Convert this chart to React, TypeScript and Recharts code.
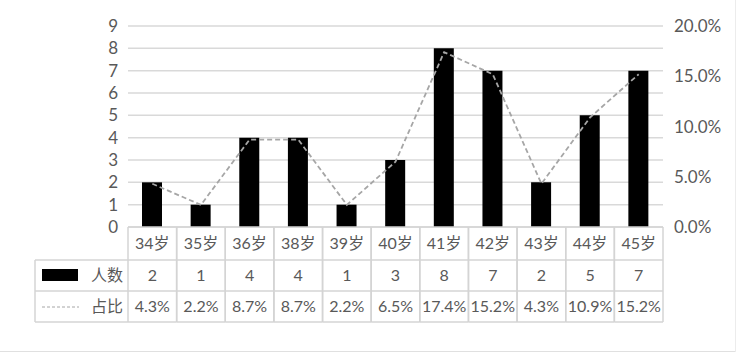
import React from 'react';
import { ComposedChart, Bar, Line, XAxis, YAxis, CartesianGrid } from 'recharts';

const AGES = ['34岁', '35岁', '36岁', '38岁', '39岁', '40岁', '41岁', '42岁', '43岁', '44岁', '45岁'];
const COUNTS = [2, 1, 4, 4, 1, 3, 8, 7, 2, 5, 7];
const SHARES = [4.3, 2.2, 8.7, 8.7, 2.2, 6.5, 17.4, 15.2, 4.3, 10.9, 15.2];
const LEFT_TICKS = [0, 1, 2, 3, 4, 5, 6, 7, 8, 9];
const RIGHT_TICKS = [0, 5, 10, 15, 20];

const W = 738;
const H = 358;
const PLOT_LEFT = 128;
const PLOT_RIGHT = 663;
const COL_W = (PLOT_RIGHT - PLOT_LEFT) / AGES.length;
const ROW_H = [33, 31, 31];
const LEGEND_W = 93;

const FONT = "Lato, 'Noto Sans CJK SC', sans-serif";
const TEXT = '#595959';
const BORDER = '#d4d4d4';
const GRID = '#d9d9d9';
const LINE_COLOR = '#a6a6a6';

const data = AGES.map((age, i) => ({ age, count: COUNTS[i], share: SHARES[i] }));

function TableTick(props: any) {
  const { x, y, payload, index } = props;
  const i = index ?? payload.index;
  const left = x - COL_W / 2;
  const r1 = y + ROW_H[0];
  const r2 = r1 + ROW_H[1];
  const r3 = r2 + ROW_H[2];
  const txt = { fill: TEXT, fontSize: 16, fontFamily: FONT, textAnchor: 'middle' as const };
  return (
    <g>
      <line x1={left} y1={y} x2={left} y2={r3} stroke={BORDER} strokeWidth={1.5} />
      <line x1={left + COL_W} y1={y} x2={left + COL_W} y2={r3} stroke={BORDER} strokeWidth={1.5} />
      <line x1={left} y1={r1} x2={left + COL_W} y2={r1} stroke={BORDER} strokeWidth={1.5} />
      <line x1={left} y1={r2} x2={left + COL_W} y2={r2} stroke={BORDER} strokeWidth={1.5} />
      <line x1={left} y1={r3} x2={left + COL_W} y2={r3} stroke={BORDER} strokeWidth={1.5} />
      <text x={x} y={y + 22} {...txt}>{AGES[i]}</text>
      <text x={x} y={r1 + 21} {...txt}>{COUNTS[i]}</text>
      <text x={x} y={r2 + 21} {...txt}>{SHARES[i].toFixed(1)}%</text>
      {i === 0 && (
        <g>
          <line x1={left - LEGEND_W} y1={r1} x2={left} y2={r1} stroke={BORDER} strokeWidth={1.5} />
          <line x1={left - LEGEND_W} y1={r2} x2={left} y2={r2} stroke={BORDER} strokeWidth={1.5} />
          <line x1={left - LEGEND_W} y1={r3} x2={left} y2={r3} stroke={BORDER} strokeWidth={1.5} />
          <line x1={left - LEGEND_W} y1={r1} x2={left - LEGEND_W} y2={r3} stroke={BORDER} strokeWidth={1.5} />
          <rect x={left - LEGEND_W + 7} y={r1 + 9} width={36} height={12} fill="#000" />
          <text x={left - 5} y={r1 + 21} fill={TEXT} fontSize={16} fontFamily={FONT} textAnchor="end">人数</text>
          <line x1={left - LEGEND_W + 7} y1={r2 + 16} x2={left - LEGEND_W + 44} y2={r2 + 16} stroke={LINE_COLOR} strokeWidth={1} strokeDasharray="3 2" />
          <text x={left - 5} y={r2 + 21} fill={TEXT} fontSize={16} fontFamily={FONT} textAnchor="end">占比</text>
        </g>
      )}
    </g>
  );
}

export default function App() {
  return (
    <div style={{ position: 'fixed', left: 0, top: 0, width: W, height: H, background: '#fff' }}>
      <ComposedChart
        width={W}
        height={H}
        data={data}
        margin={{ top: 26, right: 0, bottom: 36, left: 0 }}
        barCategoryGap={0}
      >
        <CartesianGrid yAxisId="left" vertical={false} stroke={GRID} strokeWidth={1.5} />
        <XAxis
          dataKey="age"
          height={95}
          axisLine={{ stroke: BORDER, strokeWidth: 1.5 }}
          tickLine={false}
          tickSize={0}
          tickMargin={0}
          interval={0}
          tick={<TableTick />}
        />
        <YAxis
          yAxisId="left"
          width={PLOT_LEFT}
          domain={[0, 9]}
          ticks={LEFT_TICKS}
          interval={0}
          axisLine={false}
          tickLine={false}
          tickMargin={4}
          tick={{ fill: TEXT, fontSize: 17, fontFamily: FONT }}
        />
        <YAxis
          yAxisId="right"
          orientation="right"
          width={W - PLOT_RIGHT}
          domain={[0, 20]}
          ticks={RIGHT_TICKS}
          interval={0}
          axisLine={false}
          tickLine={false}
          tickMargin={5}
          tickFormatter={(v: number) => `${v.toFixed(1)}%`}
          tick={{ fill: TEXT, fontSize: 17, fontFamily: FONT }}
        />
        <Bar yAxisId="left" dataKey="count" fill="#000" barSize={20} isAnimationActive={false} />
        <Line
          yAxisId="right"
          dataKey="share"
          stroke={LINE_COLOR}
          strokeWidth={1.8}
          strokeDasharray="5 3"
          dot={false}
          type="linear"
          isAnimationActive={false}
        />
      </ComposedChart>
      <div style={{ position: 'absolute', left: 0, top: 351, width: 736, height: 0, borderTop: '1.5px solid #e0e0e0' }} />
      <div style={{ position: 'absolute', left: 735, top: 0, width: 0, height: 352, borderLeft: '1px solid #ececec' }} />
    </div>
  );
}
